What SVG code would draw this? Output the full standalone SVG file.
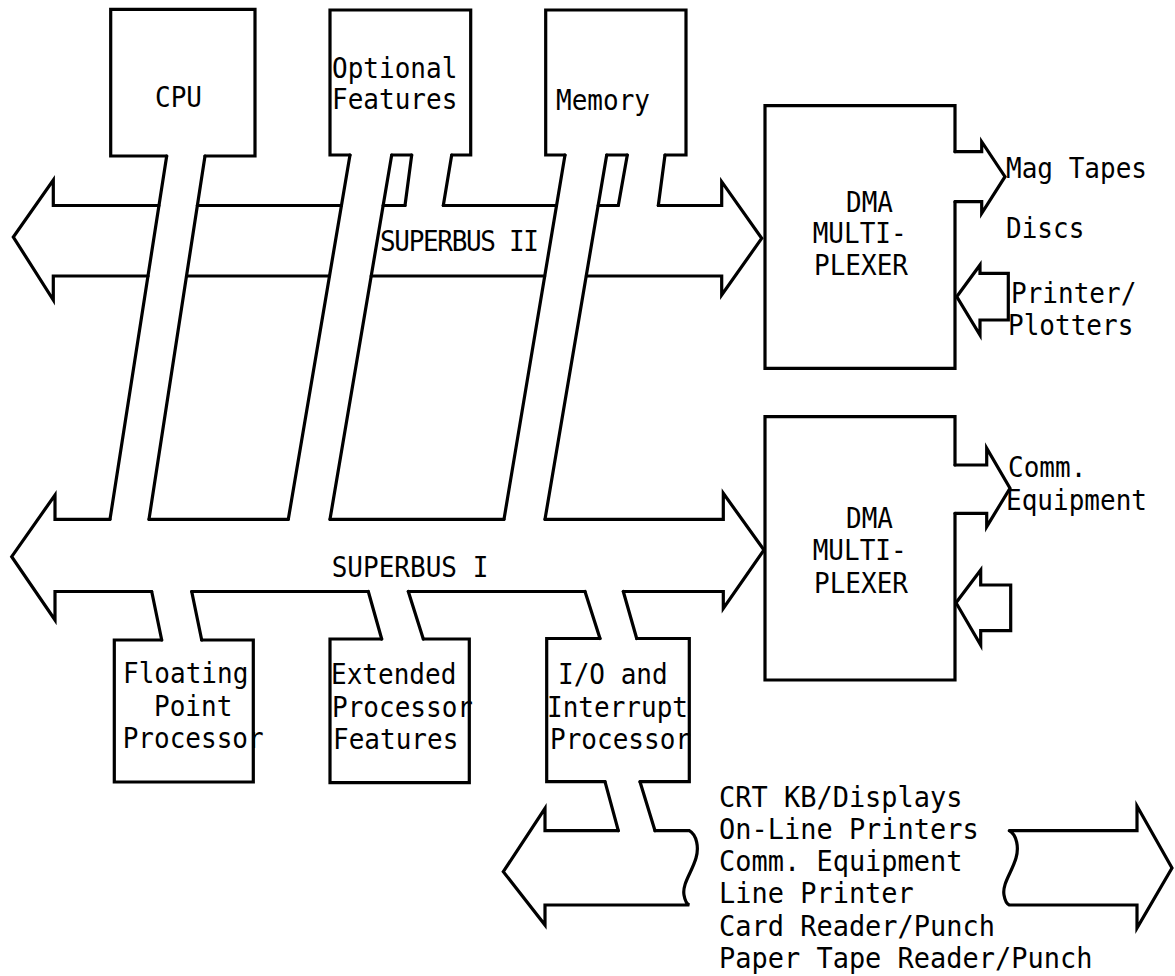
<svg xmlns="http://www.w3.org/2000/svg" width="1175" height="976" viewBox="0 0 1175 976">
<style>
.ln{fill:none;stroke:#000;stroke-width:3.2;stroke-linejoin:miter;stroke-linecap:round}
.t{font-family:"DejaVu Sans Mono","Liberation Mono",monospace;font-size:28px;fill:#000}
.tb{font-family:"DejaVu Sans Mono","Liberation Mono",monospace;font-size:29px;fill:#000}
</style>
<rect width="1175" height="976" fill="#fff"/>
<g id="cpu">
<path class="ln" d="M166.7,156 H110.7 V9.3 H255 V156 H205"/>
<text class="t" transform="translate(155,107) scale(0.93,1)">CPU</text>
</g>
<g id="optional-features">
<path class="ln" d="M350,155 H330 V10 H470.7 V155 H451.7 M411.7,155 H391.7"/>
<text class="t" transform="translate(332,78) scale(0.93,1)">Optional</text>
<text class="t" transform="translate(332,109) scale(0.93,1)">Features</text>
</g>
<g id="memory">
<path class="ln" d="M565,155 H545.7 V10 H686 V155 H665 M627.3,155 H606.7"/>
<text class="t" transform="translate(556,110) scale(0.93,1)">Memory</text>
</g>
<g id="dma1">
<path class="ln" d="M955,151.7 V105.7 H765 V368.3 H955 V201.7"/>
<text class="t" transform="translate(846,211.7) scale(0.93,1)">DMA</text>
<text class="t" transform="translate(812.7,243.3) scale(0.93,1)">MULTI-</text>
<text class="t" transform="translate(814,275) scale(0.93,1)">PLEXER</text>
</g>
<g id="dma2">
<path class="ln" d="M955,465 V416.7 H765 V680 H955 V513.3"/>
<text class="t" transform="translate(846,528.3) scale(0.93,1)">DMA</text>
<text class="t" transform="translate(812.7,560) scale(0.93,1)">MULTI-</text>
<text class="t" transform="translate(814,593.3) scale(0.93,1)">PLEXER</text>
</g>
<g id="floating-point">
<path class="ln" d="M161.7,640 H114.3 V782 H253.3 V640 H201.7"/>
<text class="t" transform="translate(123,683) scale(0.93,1)">Floating</text>
<text class="t" transform="translate(154,715.5) scale(0.93,1)">Point</text>
<text class="t" transform="translate(122.7,748) scale(0.93,1)">Processor</text>
</g>
<g id="extended">
<path class="ln" d="M381.7,639 H330 V782.7 H469.3 V639 H423.3"/>
<text class="t" transform="translate(331,684) scale(0.93,1)">Extended</text>
<text class="t" transform="translate(332,716.5) scale(0.93,1)">Processor</text>
<text class="t" transform="translate(333,749) scale(0.93,1)">Features</text>
</g>
<g id="io">
<path class="ln" d="M600,638.5 H546.7 V781.7 H605 M640,781.7 H689.3 V638.5 H636.7"/>
<text class="t" transform="translate(558,684) scale(0.93,1)">I/O and</text>
<text class="t" transform="translate(547,716.5) scale(0.93,1)">Interrupt</text>
<text class="t" transform="translate(550,749) scale(0.93,1)">Processor</text>
</g>
<g id="devices">
<text class="t" transform="translate(1006,178) scale(0.93,1)">Mag Tapes</text>
<text class="t" transform="translate(1006,238) scale(0.93,1)">Discs</text>
<text class="t" transform="translate(1011,303) scale(0.93,1)">Printer/</text>
<text class="t" transform="translate(1008,335) scale(0.93,1)">Plotters</text>
<text class="t" transform="translate(1008,477) scale(0.93,1)">Comm.</text>
<text class="t" transform="translate(1006,510) scale(0.93,1)">Equipment</text>
<text class="tb" transform="translate(719,806.7) scale(0.93,1)">CRT KB/Displays</text>
<text class="tb" transform="translate(719,838.5) scale(0.93,1)">On-Line Printers</text>
<text class="tb" transform="translate(719,870.5) scale(0.93,1)">Comm. Equipment</text>
<text class="tb" transform="translate(719,903) scale(0.93,1)">Line Printer</text>
<text class="tb" transform="translate(719,935.5) scale(0.93,1)">Card Reader/Punch</text>
<text class="tb" transform="translate(719,968) scale(0.93,1)">Paper Tape Reader/Punch</text>
</g>
<g id="connectors">
<!-- Superbus II -->
<path class="ln" d="M158.9,205.5 H53.3 V180 L13.3,237 L53.3,300 V276 H148"/>
<path class="ln" d="M197.3,205.5 H341.4 M383.1,205.5 H405 M443.3,205.5 H556.5 M598.2,205.5 H618.3"/>
<path class="ln" d="M658.3,205.5 H721.7 V181.7 L761.7,238.3 L721.7,295 V276 H586.4"/>
<path class="ln" d="M186.5,276 H329.5 M371.2,276 H544.7"/>
<!-- short stubs to Superbus II -->
<path class="ln" d="M411.7,155 L405,205.5 M451.7,155 L443.3,205.5 M627.3,155 L618.3,205.5 M665,155 L658.3,205.5"/>
<!-- long stubs to Superbus I -->
<path class="ln" d="M166.7,156 L110,519.3 M205,156 L149,519.3 M350,155 L288.3,519.3 M391.7,155 L330,519.3 M565,155 L504,519.3 M606.7,155 L545,519.3"/>
<!-- Superbus I -->
<path class="ln" d="M110,519.3 H55 V495 L11.7,556.7 L55,620 V591.5 H151.7"/>
<path class="ln" d="M149,519.3 H288.3 M330,519.3 H504"/>
<path class="ln" d="M545,519.3 H723.3 V493.3 L764,550 L723.3,608.3 V591.5 H623.3"/>
<path class="ln" d="M191.7,591.5 H368.3 M408.3,591.5 H585"/>
<path class="ln" d="M151.7,591.5 L161.7,640 M191.7,591.5 L201.7,640 M368.3,591.5 L381.7,639 M408.3,591.5 L423.3,639 M585,591.5 L600,638.5 M623.3,591.5 L636.7,638.5"/>
<!-- I/O bus -->
<path class="ln" d="M605,781.7 L618.3,830.7 M640,781.7 L655,830.7"/>
<path class="ln" d="M618.3,830.7 H545 V808.3 L503.3,871.7 L545,925 V905 H689.3 C687,904 685,901 684,895 C682,884 692,872 696,858 C699,848 697,835 689.3,830.7 H655"/>
<path class="ln" d="M1009.3,830.7 H1137 V806 L1172,868 L1137,928 V905 H1009.3 C1007,904 1005,901 1004,895 C1002,884 1012,872 1016,858 C1019,848 1017,835 1009.3,830.7"/>
<!-- DMA device arrows -->
<path class="ln" d="M955,151.7 H981.7 V141.7 L1005,176.7 L981.7,213.3 V201.7 H955"/>
<path class="ln" d="M956.7,296.7 L980,265 V273.3 H1008.3 V320 H980 V335 Z"/>
<path class="ln" d="M955,465 H986.7 V448.3 L1010,488.3 L986.7,526.7 V513.3 H955"/>
<path class="ln" d="M956,602.7 L980.7,570 V585 H1010.7 V630.7 H980.7 V645 Z"/>
</g>
<g id="bus-labels">
<text class="t" transform="translate(380,251) scale(0.93,1)" textLength="171" lengthAdjust="spacing">SUPERBUS II</text>
<text class="t" transform="translate(331.7,576.7) scale(0.93,1)">SUPERBUS I</text>
</g>
</svg>
